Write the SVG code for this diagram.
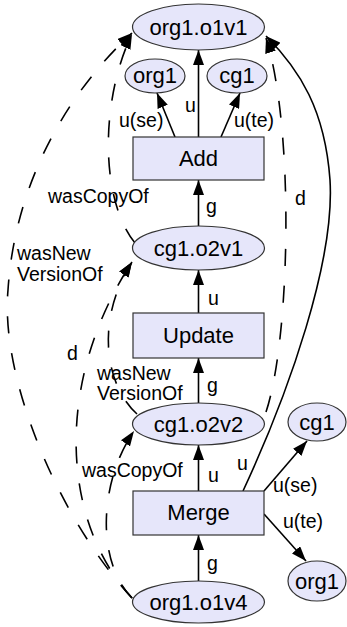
<svg xmlns="http://www.w3.org/2000/svg" width="347" height="627" viewBox="0 0 347 627">
<style>
.n{fill:#e6e6fa;stroke:#333;stroke-width:1.2}
.t{font-family:"Liberation Sans",Arial,sans-serif;font-size:22px;fill:#000;text-anchor:middle}
.l{font-family:"Liberation Sans",Arial,sans-serif;font-size:19.5px;fill:#000}
.e{fill:none;stroke:#000;stroke-width:1.6}
.d{stroke-dasharray:17 20}
</style>
<defs>
<marker id="ah" viewBox="0 0 15 11" refX="15" refY="5.5" markerWidth="15" markerHeight="11" markerUnits="userSpaceOnUse" orient="auto">
<path d="M0,0 L15,5.5 L0,11 z" fill="#000"/>
</marker>
</defs>
<g id="edges">
<path class="e" d="M198.5,137 L198.5,50" marker-end="url(#ah)"/>
<path class="e" d="M175,137 L157,93" marker-end="url(#ah)"/>
<path class="e" d="M221,137 L240,93" marker-end="url(#ah)"/>
<path class="e" d="M198.5,226 L198.5,180" marker-end="url(#ah)"/>
<path class="e" d="M198.5,313 L198.5,270" marker-end="url(#ah)"/>
<path class="e" d="M198.5,403 L198.5,358" marker-end="url(#ah)"/>
<path class="e" d="M198.5,491 L198.5,445" marker-end="url(#ah)"/>
<path class="e" d="M198.5,582 L198.5,535" marker-end="url(#ah)"/>
<path class="e" d="M264,491 L307,441" marker-end="url(#ah)"/>
<path class="e" d="M264,514 L306,561" marker-end="url(#ah)"/>
<path class="e" d="M243,491 C290,390 335,260 330,180 C325,110 300,70 266,36" marker-end="url(#ah)"/>
<path class="e d" d="M266,412 C290,340 295,130 266,38" marker-end="url(#ah)"/>
<path class="e d" d="M132,598 C60,520 0,380 8,290 C15,180 70,90 132,33" marker-end="url(#ah)"/>
<path class="e d" d="M135,243 C100,200 100,100 132,34" marker-end="url(#ah)"/>
<path class="e d" d="M132,598 C60,520 55,380 132,262" marker-end="url(#ah)"/>
<path class="e d" d="M137,414 C105,385 95,320 132,262" marker-end="url(#ah)"/>
<path class="e d" d="M132,598 C95,560 100,480 134,431" marker-end="url(#ah)"/>
<text class="l" x="185" y="112">u</text>
<text class="l" x="119" y="127">u(se)</text>
<text class="l" x="234" y="127">u(te)</text>
<text class="l" x="48" y="203">wasCopyOf</text>
<text class="l" x="206" y="213">g</text>
<text class="l" x="295" y="205">d</text>
<text class="l" x="17" y="260">wasNew</text>
<text class="l" x="17" y="281">VersionOf</text>
<text class="l" x="208" y="305">u</text>
<text class="l" x="67" y="360">d</text>
<text class="l" x="207" y="392">g</text>
<text class="l" x="97" y="380">wasNew</text>
<text class="l" x="97" y="400">VersionOf</text>
<text class="l" x="82" y="477">wasCopyOf</text>
<text class="l" x="208" y="482">u</text>
<text class="l" x="237" y="470">u</text>
<text class="l" x="273" y="492">u(se)</text>
<text class="l" x="283" y="528">u(te)</text>
<text class="l" x="207" y="570">g</text>
</g>
<g id="org1.o1v1"><ellipse class="n" cx="198.5" cy="27" rx="66" ry="23"/><text class="t" x="198.5" y="35">org1.o1v1</text></g>
<g id="org1_a"><ellipse class="n" cx="155" cy="76" rx="30" ry="17"/><text class="t" x="155" y="83">org1</text></g>
<g id="cg1_a"><ellipse class="n" cx="237" cy="76" rx="30" ry="17"/><text class="t" x="237" y="83">cg1</text></g>
<g id="Add"><rect class="n" x="133" y="137" width="131" height="43"/><text class="t" x="198.5" y="166">Add</text></g>
<g id="cg1.o2v1"><ellipse class="n" cx="198.5" cy="248" rx="66" ry="22"/><text class="t" x="198.5" y="256">cg1.o2v1</text></g>
<g id="Update"><rect class="n" x="133" y="313" width="131" height="45"/><text class="t" x="198.5" y="343">Update</text></g>
<g id="cg1.o2v2"><ellipse class="n" cx="198.5" cy="424" rx="66" ry="21"/><text class="t" x="198.5" y="432">cg1.o2v2</text></g>
<g id="cg1_b"><ellipse class="n" cx="317" cy="422" rx="29" ry="19"/><text class="t" x="317" y="430">cg1</text></g>
<g id="Merge"><rect class="n" x="133" y="491" width="131" height="44"/><text class="t" x="198.5" y="520">Merge</text></g>
<g id="org1_b"><ellipse class="n" cx="317" cy="581" rx="29" ry="20"/><text class="t" x="317" y="589">org1</text></g>
<g id="org1.o1v4"><ellipse class="n" cx="198.5" cy="602" rx="66" ry="21"/><text class="t" x="198.5" y="610">org1.o1v4</text></g>
</svg>
